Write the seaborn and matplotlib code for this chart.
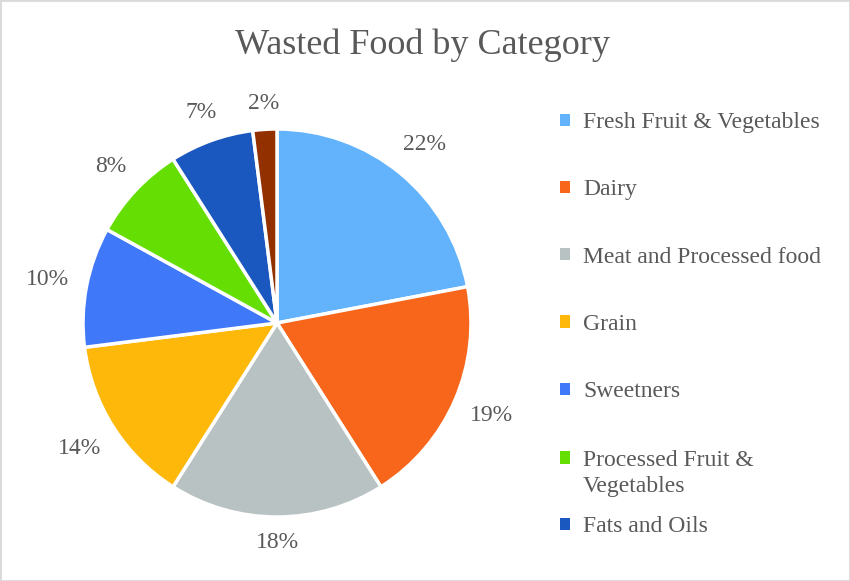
import matplotlib
matplotlib.use("Agg")
import matplotlib.pyplot as plt
import seaborn as sns
import numpy as np
from matplotlib.patches import Patch, Rectangle
from matplotlib.legend_handler import HandlerPatch

# Data
categories = ['Fresh Fruit & Vegetables', 'Dairy', 'Meat and Processed food',
              'Grain', 'Sweetners', 'Processed Fruit &\nVegetables',
              'Fats and Oils', 'Other']
shares = [22, 19, 18, 14, 10, 8, 7, 2]
slice_colors = ['#62B3FC', '#F7661A', '#B8C2C2', '#FDB809',
                '#3F78F8', '#65DE03', '#1A57BE', '#933000']
legend_count = 7  # the last entry is cut off in the original legend

sns.set_theme(style='white')
plt.rcParams['font.family'] = ['Liberation Serif', 'DejaVu Serif']
TEXT = '#595959'

palette = sns.color_palette(slice_colors)

fig = plt.figure(figsize=(8.5, 5.81), dpi=100)
fig.patch.set_facecolor('white')

# pie centre ~ (277, 323) px, radius ~194 px
cx, cy, r = 277, 323, 194
W, H = 850, 581
ax = fig.add_axes([(cx - r) / W, (H - cy - r) / H, 2 * r / W, 2 * r / H])

wedges, texts, autotexts = ax.pie(
    shares, colors=palette, startangle=90, counterclock=False,
    autopct='%1.0f%%', pctdistance=1.2,
    wedgeprops=dict(edgecolor='white', linewidth=2.5),
    textprops=dict(color=TEXT, fontsize=17))
ax.set_xlim(-1, 1)
ax.set_ylim(-1, 1)
ax.set_aspect('equal')

# Excel-style outside labels: keep the label box a fixed gap off the rim
fig.canvas.draw()
renderer = fig.canvas.get_renderer()
px_per_unit = r
gap = 17 / px_per_unit
for w, t in zip(wedges, autotexts):
    ang = np.deg2rad((w.theta1 + w.theta2) / 2)
    dx, dy = np.cos(ang), np.sin(ang)
    bb = t.get_window_extent(renderer)
    hw = bb.width / 2 / px_per_unit
    hh = bb.height / 2 / px_per_unit * 0.8
    dist = 1 + gap + abs(dx) * hw + abs(dy) * hh
    t.set_position((dx * dist, dy * dist))

fig.text(0.497, 0.922, 'Wasted Food by Category', ha='center', va='center',
         fontsize=26, color=TEXT)


def raised_square(legend, orig_handle, xdescent, ydescent, width, height, fontsize):
    # keep the square level with the first line of a wrapped label
    return Rectangle((-xdescent, -ydescent + 0.66 * fontsize), width, height)


handles = [Patch(facecolor=c, edgecolor='none') for c in slice_colors[:legend_count]]
leg_opts = dict(loc='upper left', frameon=False, fontsize=17,
                handlelength=0.42, handleheight=0.42, handletextpad=0.55,
                borderaxespad=0, borderpad=0)

top = fig.legend(handles[:5], categories[:5], bbox_to_anchor=(0.659, 0.807),
                 labelspacing=1.96, **leg_opts)
bottom = fig.legend(handles[5:legend_count], categories[5:legend_count],
                    bbox_to_anchor=(0.659, 0.226), labelspacing=0.8,
                    handler_map={handles[5]: HandlerPatch(patch_func=raised_square)},
                    **leg_opts)
for leg in (top, bottom):
    for t in leg.get_texts():
        t.set_color(TEXT)
        t.set_linespacing(1.36)

fig.patches.append(Rectangle((0, 0), 1, 1, transform=fig.transFigure,
                             fill=False, edgecolor='#D9D9D9', linewidth=2))

fig.savefig('out.png', dpi=100, facecolor='white')
